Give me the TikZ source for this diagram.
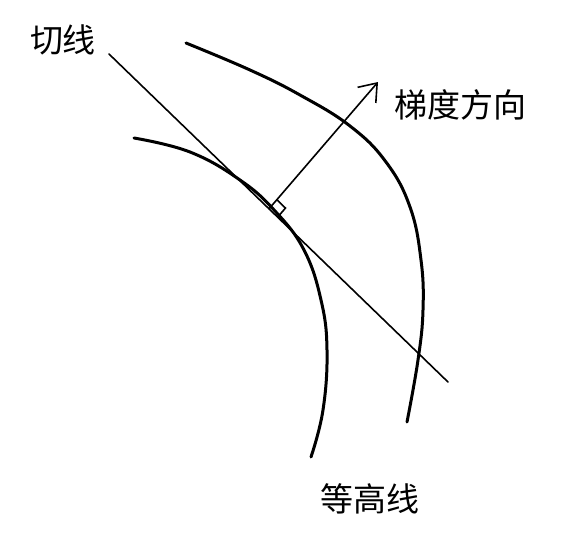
\documentclass[tikz,border=0pt]{standalone}
\usepackage{fontspec}
\newfontfamily\cjk{Noto Sans CJK SC}
\usetikzlibrary{calc,arrows.meta}
\tikzset{
  contour/.style={line width=3pt, line cap=round},
  thinline/.style={line width=1.6pt, line cap=round},
  lbl/.style={font=\cjk\fontsize{33}{40}\selectfont, inner sep=0pt, text=black}
}
\begin{document}
\begin{tikzpicture}[x=1pt,y=-1pt]
\useasboundingbox (0,0) rectangle (573,542);
% contour lines
\draw[contour] plot[smooth, tension=0.7] coordinates {(134,138) (190,152) (240,180) (275,211) (304,250) (321,300) (327,350) (323,410) (311,457)};
\draw[contour] plot[smooth, tension=0.7] coordinates {(186,43) (250,70) (300,95) (350,126) (386,162) (410,207) (421,260) (423,310) (418,360) (407,422)};
% tangent line
\coordinate (t1) at (109,54);
\coordinate (t2) at (448,382);
\draw[thinline] (t1) -- (t2);
% gradient arrow
\coordinate (F) at ($(t1)!0.472!(t2)$);
\coordinate (tip) at (378,82);
\draw[thinline, -{Straight Barb[length=16pt,width=24pt,line width=1.6pt]}] (F) -- (tip);
% right angle mark
\coordinate (A) at ($(F)!12pt!(tip)$);
\coordinate (T) at ($(F)!12pt!(t2)$);
\draw[line width=1.6pt] (A) -- ($(A)+(T)-(F)$) -- (T);
% labels
\node[lbl] (qx) at (63,40) {切线};
\node[lbl] (td) at (460,105) {梯度方向};
\node[lbl] (dg) at (370,499) {等高线};
\end{tikzpicture}
\end{document}
